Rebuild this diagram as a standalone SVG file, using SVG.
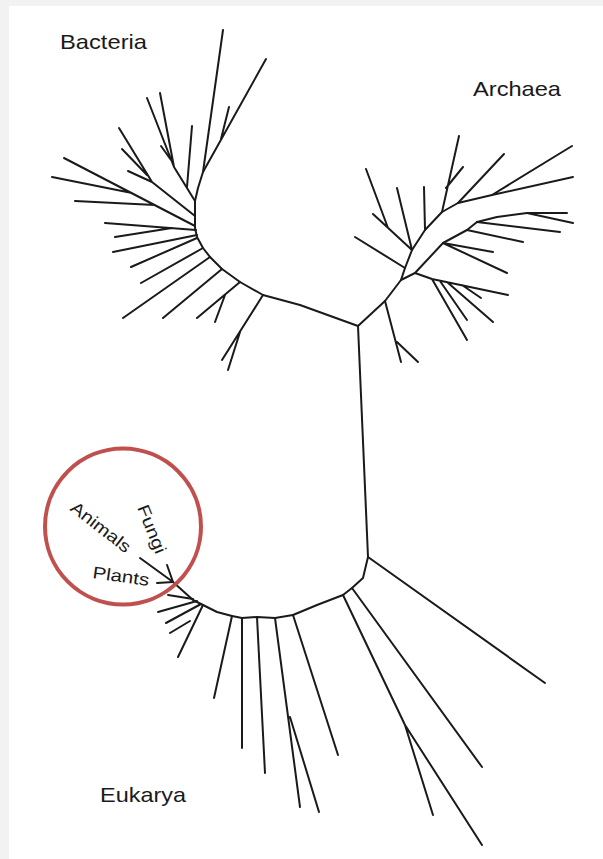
<svg xmlns="http://www.w3.org/2000/svg" width="603" height="859" viewBox="0 0 603 859">
<style>
.br{fill:none;stroke:#1a1a1a;stroke-width:2;stroke-linecap:round;stroke-linejoin:round}
.lab{font-family:"Liberation Sans",Arial,sans-serif;fill:#1a1a1a}
.big{font-size:21px}
.sm{font-size:17px}
</style>
<rect x="0" y="0" width="603" height="859" fill="#f2f2f2"/>
<rect x="9" y="6" width="594" height="853" fill="#ffffff"/>
<g id="bacteria" class="br">
<polyline points="358,326 300,305 263,295 240,282 222,269 210,257 203,248 197,237 195,228 195,214 195,201 198,188 203,172 223,30"/>
<path d="M203,172L266,59M221,139L229,107"/>
<path d="M195,201L174,167L147,98M174,167L160,93M171,160L161,146M187,187L192,126"/>
<path d="M195,216L152,182L119,128M147,175L122,149M152,182L128,171"/>
<path d="M195,226L64,158M132,193L52,177M155,205L75,201"/>
<path d="M196,230L105,223M172,228L115,237"/>
<path d="M197,235L113,252M197,238L131,267M203,248L141,283M210,257L123,318M222,269L163,318"/>
<path d="M240,282L197,318M225,295L215,322M263,295L222,360M240,332L228,370"/>
</g>
<g id="archaea" class="br">
<polyline points="358,326 385,301 401,280 405,268 412,250 425,230 442,212 458,203 492,195"/>
<path d="M385,301L401,362M397,342L418,362"/>
<path d="M405,268L355,237M412,250L373,214M388,228L366,169M412,250L397,188M425,230L424,187"/>
<path d="M442,212L459,136M446,188L463,167M458,203L504,154M492,195L572,146M492,195L573,177"/>
<polyline points="401,280 415,273 443,243 467,230 477,222 497,217 527,213 567,213"/>
<path d="M443,243L493,252M443,243L507,273M467,230L523,242M477,222L560,232M527,213L573,223"/>
<path d="M415,273L432,279L508,295M462,285L481,298M432,279L467,340M440,281L467,320M447,282L493,322"/>
</g>
<g id="eukarya" class="br">
<polyline points="358,326 368,557 363,578 352,588 343,595 317,605 293,615 275,618 257,617 242,618 232,616 217,612 203,605 193,600 183,591 173,582"/>
<path d="M368,557L545,683M352,588L482,767M343,595L405,725L433,815M405,725L482,845"/>
<path d="M293,615L338,755M275,618L300,807M290,717L319,812M257,617L265,773M242,618L242,748M232,616L214,698"/>
<path d="M193,599L168,595M197,601L158,612M201,604L166,623M203,605L178,657M190,621L170,633"/>
<path d="M173,582L140,558M173,582L167,565M173,582L157,583"/>
</g>
<circle id="highlight" cx="123" cy="526.5" r="78" fill="none" stroke="#c0504d" stroke-width="4"/>
<g id="labels" class="lab">
<text class="big" x="60" y="48.5" textLength="87" lengthAdjust="spacingAndGlyphs">Bacteria</text>
<text class="big" x="473" y="96" textLength="88" lengthAdjust="spacingAndGlyphs">Archaea</text>
<text class="big" x="100" y="802" textLength="86" lengthAdjust="spacingAndGlyphs">Eukarya</text>
<text class="sm" transform="translate(101,527) rotate(38)" x="-35.5" y="6" textLength="71" lengthAdjust="spacingAndGlyphs">Animals</text>
<text class="sm" transform="translate(152,529) rotate(68)" x="-25.5" y="6" textLength="51" lengthAdjust="spacingAndGlyphs">Fungi</text>
<text class="sm" transform="translate(121,576) rotate(8)" x="-28.5" y="6" textLength="57" lengthAdjust="spacingAndGlyphs">Plants</text>
</g>
</svg>
